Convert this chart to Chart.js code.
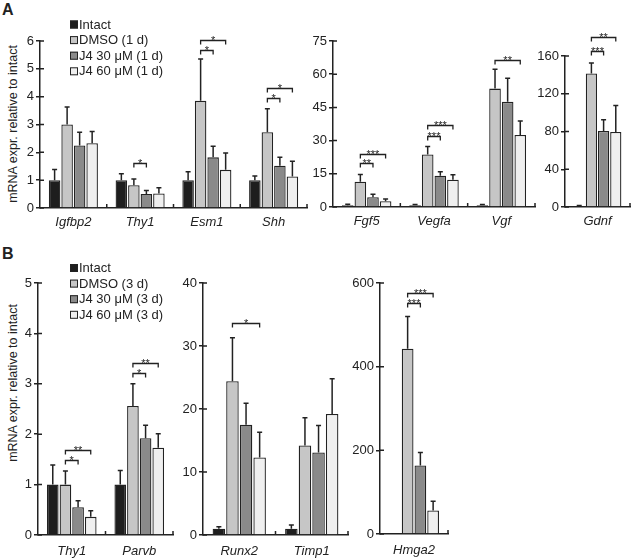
<!DOCTYPE html>
<html>
<head>
<meta charset="utf-8">
<script src="https://cdn.jsdelivr.net/npm/chart.js@4.4.1/dist/chart.umd.min.js"></script>
<style>
  body { margin: 0; background: #fff; width: 640px; height: 560px; position: relative; overflow: hidden;
         font-family: "Liberation Sans", Arial, sans-serif; color: #222; }
  canvas { position: absolute; }
  .tag { position: absolute; font-weight: bold; font-size: 16px; }
  .ytitle { position: absolute; font-size: 12.5px; white-space: nowrap; transform: translate(-50%, -50%) rotate(-90deg); }
</style>
</head>
<body>
<div class="tag" style="left:2px;top:1px">A</div>
<div class="tag" style="left:2px;top:245px">B</div>
<div class="ytitle" style="left:13px;top:124px">mRNA expr. relative to intact</div>
<div class="ytitle" style="left:13px;top:383px">mRNA expr. relative to intact</div>
<script>
const FONT = '"Liberation Sans", Arial, sans-serif';
const colors = ['#1e1e1e', '#c6c6c6', '#8a8a8a', '#efefef'];
const seriesA = ['Intact', 'DMSO (1 d)', 'J4 30 μM (1 d)', 'J4 60 μM (1 d)'];
const seriesB = ['Intact', 'DMSO (3 d)', 'J4 30 μM (3 d)', 'J4 60 μM (3 d)'];

// A, left block
const catsA1 = ['Igfbp2', 'Thy1', 'Esm1', 'Shh'];
const meanA1 = [[1.0, 1.0, 1.0, 1.0], [3.0, 0.82, 3.85, 2.72], [2.25, 0.5, 1.82, 1.52], [2.33, 0.52, 1.37, 1.13]];
const semA1 = [[0.38, 0.23, 0.3, 0.15], [0.63, 0.22, 1.5, 0.85], [0.47, 0.13, 0.4, 0.3], [0.42, 0.21, 0.61, 0.55]];
const sigA1 = [[1, 1, 2, 1.62, '*'], [2, 1, 2, 5.68, '*'], [2, 1, 3, 6.04, '*'], [3, 1, 2, 3.95, '*'], [3, 1, 3, 4.3, '*']];

// A, middle block
const catsA2 = ['Fgf5', 'Vegfa', 'Vgf'];
const meanA2 = [[0.8, 0.8, 0.8], [11.4, 23.7, 53.5], [4.4, 14.1, 47.5], [2.6, 12.3, 32.5]];
const semA2 = [[0.4, 0.3, 0.3], [3.3, 3.6, 8.7], [1.4, 1.8, 10.7], [1.0, 2.3, 6.4]];
const sigA2 = [[0, 1, 2, 19.7, '**'], [0, 1, 3, 23.9, '***'], [1, 1, 2, 32.1, '***'], [1, 1, 3, 37.1, '***'], [2, 1, 3, 66.4, '**']];

// A, Gdnf
const catsA3 = ['Gdnf'];
const meanA3 = [[1.0], [141.5], [80.5], [79.5]];
const semA3 = [[0.5], [11.0], [12.0], [28.0]];
const sigA3 = [[0, 1, 2, 165, '***'], [0, 1, 3, 180, '**']];

// B, left block
const catsB1 = ['Thy1', 'Parvb'];
const meanB1 = [[1.0, 1.0], [1.0, 2.56], [0.55, 1.92], [0.36, 1.73]];
const semB1 = [[0.39, 0.28], [0.27, 0.44], [0.13, 0.26], [0.12, 0.28]];
const sigB1 = [[0, 1, 2, 1.49, '*'], [0, 1, 3, 1.69, '**'], [1, 1, 2, 3.21, '*'], [1, 1, 3, 3.41, '**']];

// B, middle block
const catsB2 = ['Runx2', 'Timp1'];
const meanB2 = [[1.0, 1.0], [24.4, 14.2], [17.5, 13.1], [12.3, 19.2]];
const semB2 = [[0.3, 0.6], [6.9, 4.4], [3.4, 4.3], [4.0, 5.6]];
const sigB2 = [[0, 1, 3, 33.6, '*']];

// B, Hmga2
const catsB3 = ['Hmga2'];
const meanB3 = [[1], [443], [164], [56]];
const semB3 = [[0], [77], [31], [22]];
const sigB3 = [[0, 1, 2, 551, '***'], [0, 1, 3, 575, '***']];

const errorBars = {
  id: 'errorBars',
  afterDatasetsDraw(chart) {
    const ctx = chart.ctx, y = chart.scales.y;
    ctx.save();
    ctx.strokeStyle = '#222';
    ctx.lineWidth = 1.5;
    chart.data.datasets.forEach((ds, i) => {
      chart.getDatasetMeta(i).data.forEach((bar, j) => {
        const e = ds.errors[j];
        if (!e) return;
        const top = y.getPixelForValue(ds.data[j] + e);
        ctx.beginPath();
        ctx.moveTo(bar.x, bar.y);
        ctx.lineTo(bar.x, top);
        ctx.moveTo(bar.x - 2.5, top);
        ctx.lineTo(bar.x + 2.5, top);
        ctx.stroke();
      });
    });
    ctx.restore();
  }
};

const brackets = {
  id: 'brackets',
  afterDatasetsDraw(chart, args, opts) {
    const ctx = chart.ctx, y = chart.scales.y;
    ctx.save();
    ctx.strokeStyle = '#222';
    ctx.fillStyle = '#222';
    ctx.lineWidth = 1.3;
    ctx.font = '11px ' + FONT;
    ctx.textAlign = 'center';
    ctx.textBaseline = 'alphabetic';
    (opts.list || []).forEach(([c, a, b, v, txt]) => {
      const xa = chart.getDatasetMeta(a).data[c].x;
      const xb = chart.getDatasetMeta(b).data[c].x;
      const py = Math.round(y.getPixelForValue(v)) + 0.5;
      ctx.beginPath();
      ctx.moveTo(xa, py + 4);
      ctx.lineTo(xa, py);
      ctx.lineTo(xb, py);
      ctx.lineTo(xb, py + 4);
      ctx.stroke();
      ctx.fillText(txt, (xa + xb) / 2, py + 3.5);
    });
    ctx.restore();
  }
};

// ticks that poke into the plot: y ticks cross the axis, x ticks mark the group borders
const innerTicks = {
  id: 'innerTicks',
  afterDraw(chart) {
    const ctx = chart.ctx, a = chart.chartArea, y = chart.scales.y;
    const n = chart.data.labels.length;
    ctx.save();
    ctx.strokeStyle = '#222';
    ctx.lineWidth = 1.5;
    ctx.beginPath();
    y.ticks.forEach(t => {
      const py = y.getPixelForValue(t.value);
      ctx.moveTo(a.left, py);
      ctx.lineTo(a.left + 4, py);
    });
    for (let i = 1; i <= n; i++) {
      const px = a.left + i * (a.right - a.left) / n;
      ctx.moveTo(px, a.bottom);
      ctx.lineTo(px, a.bottom - 4);
    }
    ctx.stroke();
    ctx.restore();
  }
};

const boxLegend = {
  id: 'boxLegend',
  afterDraw(chart, args, opts) {
    if (!opts.show) return;
    const ctx = chart.ctx;
    ctx.save();
    ctx.font = '13px ' + FONT;
    ctx.textBaseline = 'middle';
    ctx.lineWidth = 1;
    chart.data.datasets.forEach((ds, i) => {
      const cy = opts.y + i * opts.dy;
      ctx.fillStyle = ds.backgroundColor;
      ctx.fillRect(opts.x, cy - 4, 8, 8);
      ctx.strokeStyle = '#222';
      ctx.strokeRect(opts.x + 0.5, cy - 3.5, 7, 7);
      ctx.fillStyle = '#222';
      ctx.fillText(ds.label, opts.x + 9, cy + 0.5);
    });
    ctx.restore();
  }
};

function makePanel(p) {
  const padT = 40, padR = 8, yW = 40, xH = 24;
  const w = p.right - p.axisX + yW + padR;
  const h = p.bottom - p.top + padT + xH;
  const ox = p.axisX - yW, oy = p.top - padT;
  const cv = document.createElement('canvas');
  cv.width = w; cv.height = h;
  cv.style.width = w + 'px'; cv.style.height = h + 'px';
  cv.style.left = ox + 'px'; cv.style.top = oy + 'px';
  document.body.appendChild(cv);
  const leg = p.legend ? { show: true, x: p.legend.x - ox, y: p.legend.y - oy, dy: 15.6 } : { show: false };

  new Chart(cv, {
    type: 'bar',
    data: {
      labels: p.cats,
      datasets: p.means.map((m, i) => ({
        label: p.series[i],
        data: m,
        errors: p.sems[i],
        backgroundColor: colors[i],
        borderColor: '#222',
        borderWidth: 1.3,
        categoryPercentage: 0.75,
        barPercentage: 0.92
      }))
    },
    options: {
      responsive: false,
      animation: false,
      layout: { padding: { top: padT, right: padR, left: 0, bottom: 0 } },
      plugins: {
        legend: { display: false },
        tooltip: { enabled: false },
        brackets: { list: p.sigs },
        boxLegend: leg
      },
      scales: {
        x: {
          grid: { display: false, drawTicks: false },
          border: { display: true, color: '#222', width: 1.5 },
          ticks: { color: '#222', padding: p.labelPad, maxRotation: 0, autoSkip: false,
                   font: { family: FONT, size: 13, style: 'italic' } },
          afterFit: s => { s.height = xH; }
        },
        y: {
          min: 0,
          max: p.yMax,
          ticks: { stepSize: p.yStep, color: '#222', padding: 2, font: { family: FONT, size: 13 } },
          grid: { drawOnChartArea: false, drawTicks: true, tickLength: 4, color: '#222', lineWidth: 1.5 },
          border: { display: true, color: '#222', width: 1.5 },
          afterFit: s => { s.width = yW; }
        }
      }
    },
    plugins: [errorBars, brackets, innerTicks, boxLegend]
  });
}

makePanel({ axisX: 40, right: 307, top: 41, bottom: 208, labelPad: 7, cats: catsA1, series: seriesA,
            means: meanA1, sems: semA1, sigs: sigA1, yMax: 6, yStep: 1, legend: { x: 70, y: 24.5 } });
makePanel({ axisX: 333, right: 535, top: 41, bottom: 207, labelPad: 7, cats: catsA2, series: seriesA,
            means: meanA2, sems: semA2, sigs: sigA2, yMax: 75, yStep: 15 });
makePanel({ axisX: 565, right: 630, top: 56, bottom: 207, labelPad: 7, cats: catsA3, series: seriesA,
            means: meanA3, sems: semA3, sigs: sigA3, yMax: 160, yStep: 40 });
makePanel({ axisX: 38, right: 173, top: 283, bottom: 535, labelPad: 9, cats: catsB1, series: seriesB,
            means: meanB1, sems: semB1, sigs: sigB1, yMax: 5, yStep: 1, legend: { x: 70, y: 268 } });
makePanel({ axisX: 203, right: 348, top: 283, bottom: 535, labelPad: 9, cats: catsB2, series: seriesB,
            means: meanB2, sems: semB2, sigs: sigB2, yMax: 40, yStep: 10 });
makePanel({ axisX: 380, right: 448, top: 283, bottom: 534, labelPad: 9, cats: catsB3, series: seriesB,
            means: meanB3, sems: semB3, sigs: sigB3, yMax: 600, yStep: 200 });
</script>
</body>
</html>
